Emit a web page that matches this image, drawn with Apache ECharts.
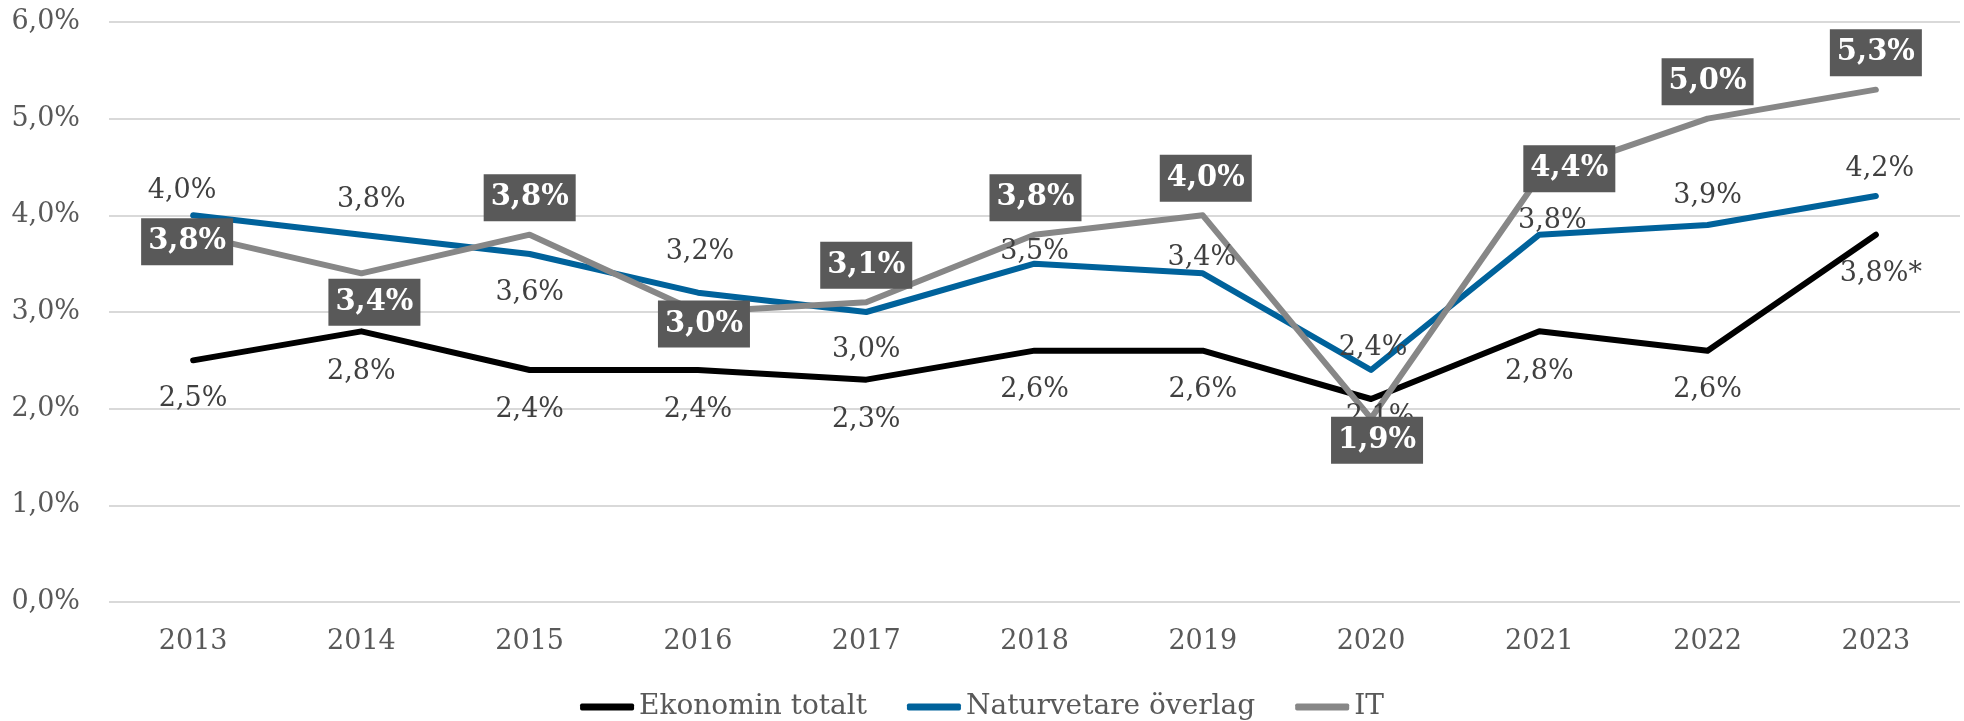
<!DOCTYPE html>
<html>
<head>
<meta charset="utf-8">
<script src="https://cdn.jsdelivr.net/npm/echarts@6/dist/echarts.min.js"></script>
<style>
  html, body { margin: 0; padding: 0; background: #fff; }
  #chart01 { width: 1964px; height: 721px; }
</style>
</head>
<body>
<div id="chart01"></div>
<script>
// data
var years = ['2013', '2014', '2015', '2016', '2017', '2018', '2019', '2020', '2021', '2022', '2023'];
var ekonomin = [2.5, 2.8, 2.4, 2.4, 2.3, 2.6, 2.6, 2.1, 2.8, 2.6, 3.8];
var naturvetare = [4.0, 3.8, 3.6, 3.2, 3.0, 3.5, 3.4, 2.4, 3.8, 3.9, 4.2];
var it = [3.8, 3.4, 3.8, 3.0, 3.1, 3.8, 4.0, 1.9, 4.4, 5.0, 5.3];
var ekonominSuffix = ['', '', '', '', '', '', '', '', '', '', '*'];
var yTicks = [0, 1, 2, 3, 4, 5, 6];

// label placement (px from the point)
var ekonominOffset = [[0, 39], [0, 41], [0, 40], [0, 40], [0, 40], [0, 39], [0, 39], [9, 18], [0, 41], [0, 39], [5, 39]];
var naturOffset = [[-11, -24], [10, -35], [0, 39], [2, -41], [0, 38], [0, -12], [-1, -15], [2, -22], [13, -14], [0, -29], [4, -27]];
var itOffset = [[-6, 7], [13, 29], [0, -37], [6, 12], [0, -37], [1, -37], [3, -37], [6, 22], [30, -8], [0, -37], [0, -37]];

var font = "'DejaVu Serif', 'Liberation Serif', serif";

function pct(v) {
    return v.toFixed(1).replace('.', ',') + '%';
}

function build(values, offsets) {
    return values.map(function (v, i) {
        return { value: v, label: { offset: offsets[i] } };
    });
}

var myChart01 = echarts.init(document.getElementById('chart01'));
var option = {
    backgroundColor: '#ffffff',
    animation: false,
    grid: {
        left: 109,
        right: 4,
        top: 22,
        bottom: 119
    },
    legend: {
        left: 'center',
        top: 688,
        icon: 'roundRect',
        itemWidth: 54,
        itemHeight: 7,
        itemGap: 40,
        textStyle: { fontFamily: font, fontSize: 28, color: '#595959' },
        data: ['Ekonomin totalt', 'Naturvetare överlag', 'IT']
    },
    xAxis: {
        type: 'category',
        data: years,
        axisLine: { show: false },
        axisTick: { show: false },
        axisLabel: { fontFamily: font, fontSize: 27, color: '#595959', margin: 26 }
    },
    yAxis: {
        type: 'value',
        min: yTicks[0],
        max: yTicks[yTicks.length - 1],
        interval: 1,
        axisLine: { show: false },
        axisTick: { show: false },
        splitLine: { lineStyle: { color: '#d9d9d9', width: 2 } },
        axisLabel: {
            fontFamily: font, fontSize: 27, color: '#595959', margin: 29,
            formatter: function (v) { return pct(v); }
        }
    },
    series: [
        {
            name: 'Ekonomin totalt',
            type: 'line',
            symbol: 'circle',
            symbolSize: 2,
            itemStyle: { color: '#000000' },
            lineStyle: { color: '#000000', width: 6, cap: 'round', join: 'round' },
            label: {
                show: true,
                position: 'inside',
                fontFamily: font, fontSize: 27, color: '#404040',
                formatter: function (p) { return pct(p.value) + ekonominSuffix[p.dataIndex]; }
            },
            data: build(ekonomin, ekonominOffset)
        },
        {
            name: 'Naturvetare överlag',
            type: 'line',
            symbol: 'circle',
            symbolSize: 2,
            itemStyle: { color: '#00629b' },
            lineStyle: { color: '#00629b', width: 6, cap: 'round', join: 'round' },
            label: {
                show: true,
                position: 'inside',
                fontFamily: font, fontSize: 27, color: '#404040',
                formatter: function (p) { return pct(p.value); }
            },
            data: build(naturvetare, naturOffset)
        },
        {
            name: 'IT',
            type: 'line',
            symbol: 'circle',
            symbolSize: 2,
            itemStyle: { color: '#878787' },
            lineStyle: { color: '#878787', width: 6, cap: 'round', join: 'round' },
            label: {
                show: true,
                position: 'inside',
                fontFamily: font, fontSize: 29, fontWeight: 'bold', color: '#ffffff',
                backgroundColor: '#595959',
                padding: [10, 7, 8, 7],
                formatter: function (p) { return pct(p.value); }
            },
            data: build(it, itOffset)
        }
    ]
};
myChart01.setOption(option);
</script>
</body>
</html>
